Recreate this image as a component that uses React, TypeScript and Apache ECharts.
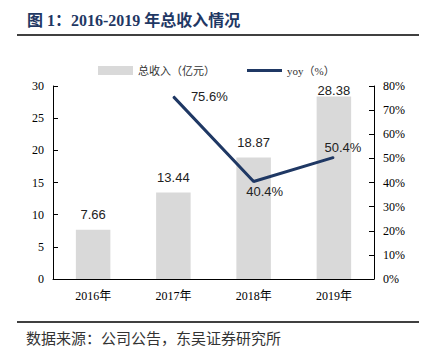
import React, { useEffect, useRef } from "react";
import * as echarts from "echarts";

const categories = ["2016年", "2017年", "2018年", "2019年"];
const revenue = [7.66, 13.44, 18.87, 28.38];
const yoy: (number | null)[] = [null, 75.6, 40.4, 50.4];

const serif = "'Liberation Serif', 'Noto Sans CJK SC', serif";
const sans = "'Liberation Sans', Arial, sans-serif";

// label placement tweaks (styles, not data)
const barLabelDistance = [8.5, 8.5, 8.5, -1];
const yoyLabelStyle: any[] = [
  null,
  { position: "right", distance: 17 },
  { position: "bottom", distance: 5, offset: [11, -2] },
  { position: "top", distance: 5, offset: [9, 2] },
];

export default function App() {
  const ref = useRef<HTMLDivElement>(null);
  useEffect(() => {
    const chart = echarts.init(ref.current!, null, { renderer: "svg" });
    chart.setOption({
      animation: false,
      backgroundColor: "#ffffff",
      graphic: [
        {
          type: "text",
          left: 27,
          top: 12,
          style: {
            text: "图 1：2016-2019 年总收入情况",
            font: `bold 16px ${serif}`,
            fill: "#1f3864",
          },
        },
        {
          type: "line",
          shape: { x1: 17, y1: 35, x2: 419, y2: 35 },
          style: { stroke: "#000", lineWidth: 1.5 },
        },
        {
          type: "line",
          shape: { x1: 17, y1: 322, x2: 419, y2: 322 },
          style: { stroke: "#000", lineWidth: 1.5 },
        },
        {
          type: "text",
          left: 26,
          top: 330,
          style: {
            text: "数据来源：公司公告，东吴证券研究所",
            font: `15px 'Noto Sans CJK SC', sans-serif`,
            fill: "#333",
          },
        },
      ],
      legend: {
        top: 60,
        left: 93,
        itemWidth: 35,
        itemHeight: 9,
        itemGap: 32,
        symbolKeepAspect: true,
        textStyle: { fontSize: 11, fontFamily: serif, color: "#333" },
        data: [
          { name: "总收入（亿元）", icon: "rect" },
          { name: "yoy（%）", icon: "path://M0,0 L35,0 L35,3 L0,3 Z" },
        ],
      },
      grid: { left: 53, right: 54, top: 86, bottom: 75 },
      xAxis: {
        type: "category",
        data: categories,
        axisLine: { lineStyle: { color: "#000", width: 1 } },
        axisTick: { inside: true, length: 5, lineStyle: { color: "#000" } },
        axisLabel: {
          color: "#000",
          fontFamily: serif,
          fontSize: 12,
          margin: 11,
        },
      },
      yAxis: [
        {
          type: "value",
          min: 0,
          max: 30,
          interval: 5,
          splitLine: { show: false },
          axisLine: { show: true, lineStyle: { color: "#000" } },
          axisTick: { show: true, inside: true, length: 5, lineStyle: { color: "#000" } },
          axisLabel: { color: "#000", fontFamily: serif, fontSize: 12, margin: 9 },
        },
        {
          type: "value",
          min: 0,
          max: 80,
          interval: 10,
          position: "right",
          splitLine: { show: false },
          axisLine: { show: true, lineStyle: { color: "#000" } },
          axisTick: { show: true, inside: true, length: 5, lineStyle: { color: "#000" } },
          axisLabel: {
            color: "#000",
            fontFamily: serif,
            fontSize: 12,
            margin: 9,
            formatter: "{value}%",
          },
        },
      ],
      series: [
        {
          name: "总收入（亿元）",
          type: "bar",
          data: revenue.map((v, i) => ({
            value: v,
            label: { distance: barLabelDistance[i] },
          })),
          barWidth: "43%",
          itemStyle: { color: "#d9d9d9" },
          label: {
            show: true,
            position: "top",
            color: "#222",
            fontFamily: sans,
            fontSize: 13,
            formatter: (p: any) => p.value.toFixed(2),
          },
        },
        {
          name: "yoy（%）",
          type: "line",
          yAxisIndex: 1,
          data: yoy.map((v, i) =>
            v == null ? null : { value: v, label: yoyLabelStyle[i] }
          ),
          symbol: "circle",
          symbolSize: 1,
          showSymbol: true,
          lineStyle: { color: "#1f3864", width: 3 },
          itemStyle: { color: "#1f3864" },
          label: {
            show: true,
            color: "#222",
            fontFamily: sans,
            fontSize: 13,
            formatter: (p: any) => p.value.toFixed(1) + "%",
          },
        },
      ],
    });
    return () => chart.dispose();
  }, []);
  return <div ref={ref} style={{ width: 428, height: 354, position: "absolute", left: 0, top: 0 }} />;
}
